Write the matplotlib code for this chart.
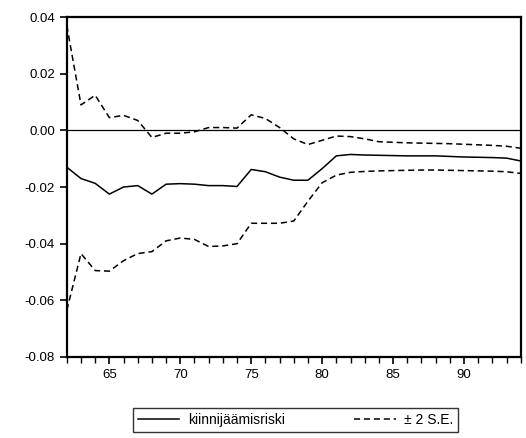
import numpy as np
import matplotlib.pyplot as plt

years = list(range(62, 95))

riski = [-0.013, -0.017, -0.0187, -0.0225, -0.020, -0.0195, -0.0225, -0.019,
         -0.0188, -0.019, -0.0195, -0.0195, -0.0198, -0.0138, -0.0146, -0.0165,
         -0.0176, -0.0176, -0.0135, -0.009, -0.0085, -0.0087, -0.0088, -0.0089,
         -0.009, -0.009, -0.009, -0.0092, -0.0094, -0.0095, -0.0096, -0.0098,
         -0.0108]

upper = [0.037, 0.009, 0.0124, 0.0045, 0.0053, 0.0035, -0.0025, -0.001,
         -0.001, -0.0005, 0.001, 0.001, 0.0008, 0.0055, 0.0042, 0.001,
         -0.003, -0.005, -0.0035, -0.002, -0.0022, -0.003, -0.004, -0.0042,
         -0.0044, -0.0045, -0.0046, -0.0047, -0.0049, -0.0051, -0.0053, -0.0056,
         -0.0063]

lower = [-0.0635, -0.0435, -0.0495, -0.0497, -0.046, -0.0435, -0.0428, -0.039,
         -0.038, -0.0385, -0.041, -0.0408, -0.040, -0.0328, -0.0328, -0.0328,
         -0.032, -0.025, -0.0185, -0.0158, -0.0148, -0.0145, -0.0143, -0.0142,
         -0.0141, -0.014, -0.014, -0.0141, -0.0142, -0.0143, -0.0144, -0.0146,
         -0.0152]

plt.rcParams['font.family'] = ['Liberation Sans', 'DejaVu Sans']

fig = plt.figure(figsize=(5.26, 4.38), dpi=100)
ax = fig.add_axes([0.127, 0.185, 0.863, 0.776])

ax.axhline(0, color='black', lw=0.9)
l1, = ax.plot(years, riski, color='black', lw=1.1, label='kiinnijäämisriski')
l2, = ax.plot(years, upper, color='black', lw=1.1, ls=(0, (4, 2.5)), label='± 2 S.E.')
ax.plot(years, lower, color='black', lw=1.1, ls=(0, (4, 2.5)))

ax.set_xlim(62, 94)
ax.set_ylim(-0.08, 0.04)
ax.set_xticks([65, 70, 75, 80, 85, 90])
ax.set_xticks(years, minor=True)
ax.set_yticks([-0.08, -0.06, -0.04, -0.02, 0.00, 0.02, 0.04])
ax.set_yticklabels(['-0.08', '-0.06', '-0.04', '-0.02', '0.00', '0.02', '0.04'])
ax.tick_params(axis='both', which='major', direction='out', length=5, width=1.2,
               labelsize=9.5)
ax.tick_params(axis='x', which='minor', direction='out', length=4, width=1)
for s in ax.spines.values():
    s.set_linewidth(1.6)

fig.legend(handles=[l1, l2], loc='center', bbox_to_anchor=(0.562, 0.041), ncol=2,
           fontsize=10, frameon=True, fancybox=False, edgecolor='black',
           handlelength=3.0, handletextpad=0.6, columnspacing=5.0, borderpad=0.35,
           borderaxespad=0)
plt.savefig('out.png', dpi=100)
